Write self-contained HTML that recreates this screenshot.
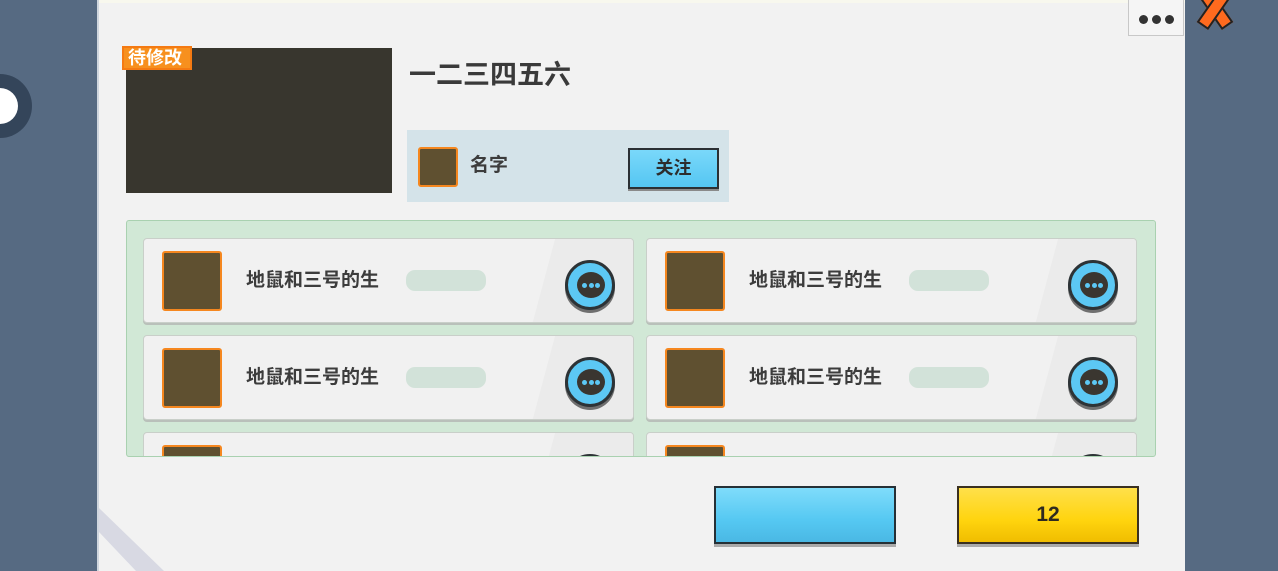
<!DOCTYPE html>
<html><head><meta charset="utf-8"><style>
*{margin:0;padding:0;box-sizing:border-box}
html,body{width:1278px;height:571px;overflow:hidden}
body{background:#566a82;position:relative;font-family:"Liberation Sans","Noto Sans CJK SC",sans-serif;}
.a{position:absolute}
.panel{left:97px;top:0;width:1088px;height:571px;background:#f2f2f2;border-left:2px solid #cfd6de}
.card{position:absolute;width:491px;height:85px;background:#f1f1f1;border:1px solid #c9cfc9;border-radius:4px;box-shadow:0 2px 0 #b9c0ba;overflow:hidden}
.card .av{position:absolute;left:18px;top:12px;width:60px;height:60px;background:#5f5030;border:2px solid #f5871f;border-radius:3px}
.card .t{position:absolute;left:102px;top:26px;font-size:19px;font-weight:bold;color:#3c3c3c}
.card .p{position:absolute;left:262px;top:31px;width:80px;height:21px;background:#d2e2d9;border-radius:9px}
.card .sh{position:absolute;right:-30px;top:-10px;width:120px;height:110px;background:#ebebeb;transform:skewX(-15deg)}
.chat{position:absolute;left:421px;top:21px;width:50px;height:50px;border-radius:50%;background:#5cc8f4;border:3px solid #2d3336;box-shadow:0 3px 0 #6f6f6f}
.chat .b{position:absolute;left:9px;top:9px;width:28px;height:26px;border-radius:50%;background:#3a3630}
.chat .b i{position:absolute;top:11px;width:5px;height:5px;border-radius:50%;background:#5cc8f4}
</style></head><body>
<div class="a" style="left:-32px;top:74px;width:64px;height:64px;border-radius:50%;background:#34455a"></div>
<div class="a" style="left:-18px;top:88px;width:36px;height:36px;border-radius:50%;background:#fff"></div>
<div class="a panel"></div>
<div class="a" style="left:99px;top:0;width:1086px;height:3px;background:#f8f8ee"></div>
<svg class="a" style="left:0;top:0" width="1278" height="571"><polygon points="99,508 99,532 136,571 164,571" fill="#d8d9e3"/></svg>
<!-- top left -->
<div class="a" style="left:126px;top:48px;width:266px;height:145px;background:#38362e"></div>
<div class="a" style="left:122px;top:46px;width:70px;height:24px;background:#f7901e;border:2px solid #f57a12;color:#fff;font-size:18px;font-weight:bold;line-height:20px;padding-left:4px">待修改</div>
<div class="a" style="left:409px;top:53px;font-size:27px;font-weight:bold;color:#3a3a3a">一二三四五六</div>
<div class="a" style="left:407px;top:130px;width:322px;height:72px;background:#d4e3e9"></div>
<div class="a" style="left:418px;top:147px;width:40px;height:40px;background:#5f5030;border:2px solid #f5871f;border-radius:3px"></div>
<div class="a" style="left:470px;top:150px;font-size:19px;font-weight:bold;color:#3c3c3c">名字</div>
<div class="a" style="left:628px;top:148px;width:91px;height:41px;background:linear-gradient(#7ad8fa,#55c6f2);border:2px solid #2b3034;box-shadow:0 2px 0 #8a8a8a;text-align:center;font-size:18px;font-weight:bold;line-height:36px;color:#2d2d2d">关注</div>
<!-- dots & X -->
<div class="a" style="left:1128px;top:-2px;width:56px;height:38px;background:#f5f5f5;border:1px solid #c8c8c8"></div>
<div class="a" style="left:1139px;top:15px;width:9px;height:9px;border-radius:50%;background:#333"></div>
<div class="a" style="left:1152px;top:15px;width:9px;height:9px;border-radius:50%;background:#333"></div>
<div class="a" style="left:1165px;top:15px;width:9px;height:9px;border-radius:50%;background:#333"></div>
<div class="a" style="left:1193px;top:1px;width:44px;height:14px;background:#ff6a1e;border:2px solid #222;transform:rotate(55deg)"></div>
<div class="a" style="left:1193px;top:1px;width:44px;height:14px;background:#ff6a1e;border:2px solid #222;transform:rotate(-55deg)"></div>
<!-- list -->
<div class="a" style="left:126px;top:220px;width:1030px;height:237px;background:#d1e8d6;border:1px solid #a9d1b0;border-radius:3px;overflow:hidden">
 <div class="card" style="left:16px;top:17px"><div class="sh"></div><div class="av"></div><div class="t">地鼠和三号的生</div><div class="p"></div><div class="chat"><div class="b"><i style="left:5px"></i><i style="left:11.5px"></i><i style="left:18px"></i></div></div></div>
 <div class="card" style="left:519px;top:17px"><div class="sh"></div><div class="av"></div><div class="t">地鼠和三号的生</div><div class="p"></div><div class="chat"><div class="b"><i style="left:5px"></i><i style="left:11.5px"></i><i style="left:18px"></i></div></div></div>
 <div class="card" style="left:16px;top:114px"><div class="sh"></div><div class="av"></div><div class="t">地鼠和三号的生</div><div class="p"></div><div class="chat"><div class="b"><i style="left:5px"></i><i style="left:11.5px"></i><i style="left:18px"></i></div></div></div>
 <div class="card" style="left:519px;top:114px"><div class="sh"></div><div class="av"></div><div class="t">地鼠和三号的生</div><div class="p"></div><div class="chat"><div class="b"><i style="left:5px"></i><i style="left:11.5px"></i><i style="left:18px"></i></div></div></div>
 <div class="card" style="left:16px;top:211px"><div class="sh"></div><div class="av"></div><div class="chat"></div></div>
 <div class="card" style="left:519px;top:211px"><div class="sh"></div><div class="av"></div><div class="chat"></div></div>
</div>
<!-- bottom buttons -->
<div class="a" style="left:714px;top:486px;width:182px;height:58px;background:linear-gradient(#7fdcfb,#55c8f2 60%,#4ab8e4);border:2px solid #263036;box-shadow:0 3px 0 #aaa"></div>
<div class="a" style="left:957px;top:486px;width:182px;height:58px;background:linear-gradient(#ffe04a,#ffd40e 60%,#f0bd00);border:2px solid #3a3020;box-shadow:0 3px 0 #aaa;text-align:center;font-size:21px;font-weight:bold;line-height:54px;color:#2e2a20">12</div>
</body></html>
